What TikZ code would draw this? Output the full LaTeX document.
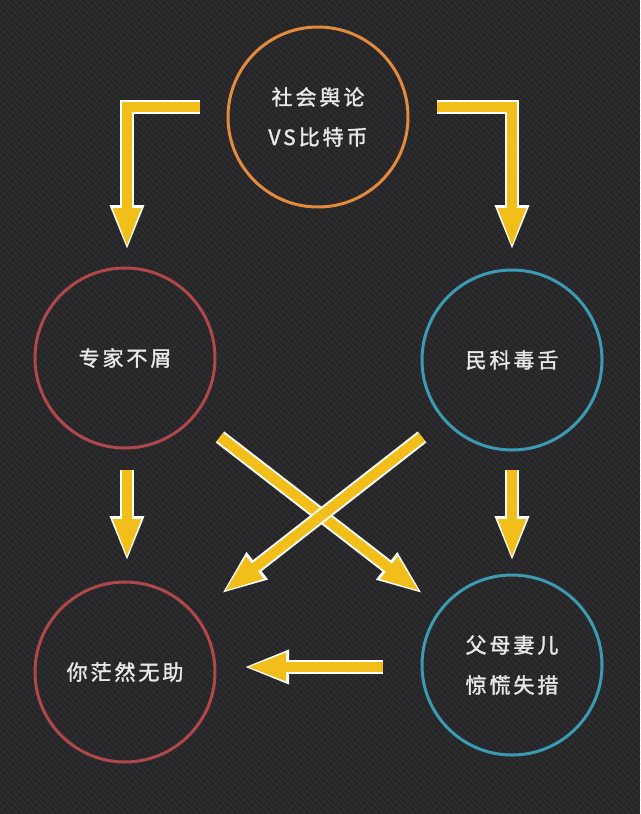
\documentclass[tikz,border=0pt]{standalone}
\usepackage{fontspec}
\setmainfont{Noto Sans CJK SC}
\usetikzlibrary{arrows.meta}
\definecolor{bg}{HTML}{262628}
\definecolor{bgline}{HTML}{3A3A3D}
\definecolor{ylw}{HTML}{F2BE1A}
\definecolor{org}{HTML}{E38A3C}
\definecolor{rd}{HTML}{B0474A}
\definecolor{tl}{HTML}{3A9BB2}
\definecolor{txt}{HTML}{E8E8E8}
\newcommand\yarr[1]{\draw[wline] #1;\draw[yline] #1;}
\newcommand\lbl[1]{\addfontfeature{LetterSpace=14,FakeBold=1.6}#1}
\begin{document}
\begin{tikzpicture}[x=1pt,y=-1pt,
  ring/.style={circle, draw, line width=3pt, minimum size=180pt, inner sep=0pt,
    text=txt, align=center, font=\fontsize{21pt}{40pt}\selectfont},
  wline/.style={draw=white, line width=14pt, line join=miter,
    -{Triangle[width=31pt,length=46pt]}},
  yline/.style={draw=ylw, line width=10pt, line join=miter, shorten >=3pt,
    -{Triangle[width=25pt,length=40pt]}}]
\useasboundingbox (0,0) rectangle (640,814);
\fill[bg] (0,0) rectangle (640,814);
\begin{scope}
\clip (0,0) rectangle (640,814);
\foreach \i in {-820,-814,...,640}
  \draw[bgline, line width=0.8pt, opacity=0.5] (\i,0) -- (\i+814,814);
\foreach \i in {0,9,...,1460}
  \draw[bgline, line width=0.6pt, opacity=0.35] (\i,0) -- (\i-814,814);
\end{scope}
% circles
\node[ring, draw=org] (top) at (318,117) {\lbl{社会舆论}\\\lbl{VS比特币}};
\node[ring, draw=rd] (zj) at (125,358) {\lbl{专家不屑}};
\node[ring, draw=tl] (mk) at (512,360) {\lbl{民科毒舌}};
\node[ring, draw=rd] (ni) at (125,672) {\lbl{你茫然无助}};
\node[ring, draw=tl] (fm) at (512,665) {\lbl{父母妻儿}\\\lbl{惊慌失措}};
% arrow end points
\coordinate (la1) at (200,107);
\coordinate (la2) at (127,251);
\coordinate (ra1) at (437,107);
\coordinate (ra2) at (512,251);
\coordinate (ld1) at (127,470);
\coordinate (ld2) at (127,562);
\coordinate (rd1) at (512,470);
\coordinate (rd2) at (512,562);
\coordinate (c1a) at (220,437);
\coordinate (c1b) at (423,594);
\coordinate (c2a) at (422,437);
\coordinate (c2b) at (221,594);
\coordinate (ha) at (383,667);
\coordinate (hb) at (243,667);
% arrows
\yarr{(la1) -| (la2)}
\yarr{(ra1) -| (ra2)}
\yarr{(ld1) -- (ld2)}
\yarr{(rd1) -- (rd2)}
\yarr{(c1a) -- (c1b)}
\yarr{(c2a) -- (c2b)}
\yarr{(ha) -- (hb)}
\end{tikzpicture}
\end{document}
